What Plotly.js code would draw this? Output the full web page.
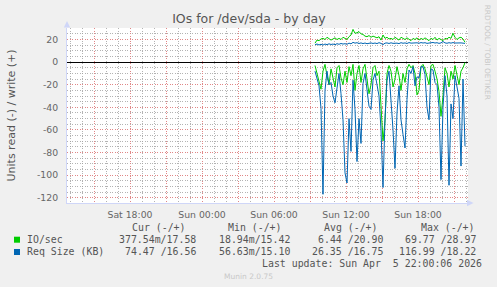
<!DOCTYPE html>
<html>
<head>
<meta charset="utf-8">
<script src="https://cdn.plot.ly/plotly-3.0.1.min.js"></script>
<style>html,body{margin:0;padding:0;background:#F0F0F0;}#chart{width:497px;height:287px;}</style>
</head>
<body>
<div id="chart"></div>
<script>
// ---- data (read values stored as positive, drawn below zero) ----
const seriesStart = '2026-04-05 09:25';
const stepMinutes = 10;

const ioRead = [3,10,18,24,8,2,12,20,6,15,22,5,3,14,20,8,18,4,12,2,25,10,3,18,6,2,15,28,20,5,3,12,8,40,69.77,52,10,3,8,22,15,4,12,25,10,18,6,2,5,3,10,29,25,4,2,6,14,20,3,2,8,15,26,48,30,5,10,22,8,15,3,12,20,8,5,0.38];
const ioWrite = [16.8,19.5,19,20.5,21,20,22,21,19.5,20.5,21.5,20,21,20,22,21,20,22.5,24,28.97,25.5,26,27,25,24.5,23,22.5,23.5,22,23,22.5,21.5,22.5,19.5,24,21,22,20.5,21,20,22,20.5,19.5,22,21,20,21.5,20.5,19,21,20,21.5,19.5,21,20,21.5,20,19,21,20,22,19.5,21,20,19,21,20.5,22,21,25.5,22,20,21.5,22,20.5,17.58];
const reqRead = [8,14,21,41,116.99,25,8,20,18,30,36,23,10,28,51,98,107,50,79,16,42,88,50,72,19,10,27,39,42,16,10,22,30,60,111,50,16,8,30,60,94,45,21,51,64,76,33,7,10,4,21,13,14,4,4,11,40,51,6,7,18,20,40,104,40,12,30,109,37,50,12,21,32,92,15,74.47];
const reqWrite = [15.5,16,15.2,15.8,15.1,16,15.5,16.2,15.6,16,15.4,16.3,15.8,16.5,16,16.3,15.8,16.8,16.2,17.5,16.8,17.2,16.5,17,16.4,16.9,16.3,16.8,17,16.5,16.9,16.4,17.2,16.6,15.5,16.8,17,16.5,17.1,16.6,17,16.8,16.4,17.2,16.7,17,16.5,17.3,16.8,17,16.6,17.1,16.7,17.3,16.9,17.2,16.6,17,16.8,17.4,16.9,17.2,16.6,17,18.22,17,16.7,17.2,16.8,17.3,16.9,17.1,16.7,17,16.8,16.56];

const xTickVals = ['2026-04-04 15:00','2026-04-04 18:00','2026-04-04 21:00','2026-04-05 00:00','2026-04-05 03:00','2026-04-05 06:00','2026-04-05 09:00','2026-04-05 12:00','2026-04-05 15:00','2026-04-05 18:00','2026-04-05 21:00'];
const xTickLabels = ['','Sat 18:00','','Sun 00:00','','Sun 06:00','','Sun 12:00','','Sun 18:00',''];
const yTickVals = [20,0,-20,-40,-60,-80,-100,-120];
const yTickLabels = ['20','0','-20','-40','-60','-80','-100','-120'];

const legendNames = ['IO/sec','Req Size (KB)'];
const legendCur = ['377.54m/17.58','74.47 /16.56'];
const legendMin = ['18.94m/15.42','56.63m/15.10'];
const legendAvg = ['6.44 /20.90','26.35 /16.75'];
const legendMax = ['69.77 /28.97','116.99 /18.22'];
const lastUpdate = 'Last update: Sun Apr\u00A0\u00A05 22:00:06 2026';

// ---- build ----
function timeAxis(n){
  const p = seriesStart.split(/[- :]/).map(Number);
  const t0 = Date.UTC(p[0], p[1]-1, p[2], p[3], p[4]);
  const out = [];
  for (let i=0;i<n;i++){ out.push(new Date(t0 + i*stepMinutes*60000).toISOString().slice(0,19).replace('T',' ')); }
  return out;
}
const xs = timeAxis(ioRead.length);
const GREEN = '#00CC00', BLUE = '#0066B3';

const traces = [
  {x: xs, y: ioRead.map(v=>-v), type:'scatter', mode:'lines', line:{color:GREEN,width:1}},
  {x: xs, y: ioWrite, type:'scatter', mode:'lines', line:{color:GREEN,width:1}},
  {x: xs, y: reqRead.map(v=>-v), type:'scatter', mode:'lines', line:{color:BLUE,width:1}},
  {x: xs, y: reqWrite, type:'scatter', mode:'lines', line:{color:BLUE,width:1}}
];

const W=497, H=287, L=67, R=29, T=28, B=84;
const PW = W-L-R, PH = H-T-B;
const px = x => (x-L)/PW;
const py = y => (H-B-y)/PH;

const mono = 'DejaVu Sans Mono, monospace';
const sans = 'DejaVu Sans, sans-serif';
const TXT = '#555555';
const ann = [];
function addText(text, x, y, anchor, opts){
  ann.push(Object.assign({text, xref:'paper', yref:'paper', x:px(x), y:py(y), xanchor:anchor, yanchor:'middle',
    showarrow:false, borderpad:0, font:{family:mono,size:9.9,color:TXT}}, opts||{}));
}
// headers
addText('Cur\u00A0(-/+)', 187.3, 227.3, 'right');
addText('Min\u00A0(-/+)', 283.3, 227.3, 'right');
addText('Avg\u00A0(-/+)', 379.3, 227.3, 'right');
addText('Max\u00A0(-/+)', 476.2, 227.3, 'right');
const rowY = [239.3, 251.7];
for (let i=0;i<2;i++){
  addText(legendNames[i], 26.3, rowY[i], 'left');
  addText(legendCur[i], 196.9, rowY[i], 'right');
  addText(legendMin[i], 290.9, rowY[i], 'right');
  addText(legendAvg[i], 383.5, rowY[i], 'right');
  addText(legendMax[i], 476.9, rowY[i], 'right');
}
addText(lastUpdate, 482.5, 263.5, 'right');
addText('Munin 2.0.75', 248, 276.5, 'center', {font:{family:sans,size:7.5,color:'#C8C8C8'}});
addText('RRDTOOL / TOBI OETIKER', 488.3, 52, 'center', {textangle:90, font:{family:sans,size:7.4,color:'#C8C8C8'}});
addText('Units read (-) / write (+)', 11, 115.5, 'center', {textangle:-90, font:{family:sans,size:11,color:TXT}});

const shapes = [
  {type:'rect', xref:'paper', yref:'paper', x0:px(14), x1:px(20), y0:py(242.7), y1:py(236.7), fillcolor:GREEN, line:{width:0}},
  {type:'rect', xref:'paper', yref:'paper', x0:px(14), x1:px(20), y0:py(255), y1:py(249), fillcolor:BLUE, line:{width:0}},
  {type:'path', xref:'paper', yref:'paper', path:`M ${px(63.8)} ${py(27.5)} L ${px(70.2)} ${py(27.5)} L ${px(67)} ${py(21)} Z`, fillcolor:'#CFD6F8', line:{width:0}},
  {type:'path', xref:'paper', yref:'paper', path:`M ${px(467)} ${py(199.8)} L ${px(467)} ${py(206.2)} L ${px(473.5)} ${py(203)} Z`, fillcolor:'#CFD6F8', line:{width:0}}
];

const MGRID = 'rgba(228,130,130,0.9)';
const GRID = 'rgba(160,160,160,0.8)';
const DOTS = '1px,1.5px';

const layout = {
  width:W, height:H,
  margin:{l:L,r:R,t:T,b:B,pad:0},
  paper_bgcolor:'#F0F0F0', plot_bgcolor:'#FFFFFF',
  showlegend:false,
  title:{text:'IOs for /dev/sda - by day', font:{family:sans,size:12.5,color:TXT}, x:248.9/W, xanchor:'center', y:1-18.5/H, yanchor:'middle'},
  xaxis:{
    type:'date', range:['2026-04-04 12:45','2026-04-05 22:10'],
    tickmode:'array', tickvals:xTickVals, ticktext:xTickLabels,
    showgrid:true, gridcolor:MGRID, griddash:DOTS, gridwidth:1,
    minor:{tickmode:'linear', dtick:3600000, tick0:'2026-04-04 00:00', showgrid:true, gridcolor:GRID, griddash:DOTS, gridwidth:1},
    showline:true, linecolor:'#CFD6F8', linewidth:1,
    ticks:'', ticklabelstandoff:3,
    tickfont:{family:sans,size:9.3,color:'#666666'},
    zeroline:false, fixedrange:true
  },
  yaxis:{
    range:[-124.7,30.2],
    tickmode:'array', tickvals:yTickVals, ticktext:yTickLabels,
    showgrid:true, gridcolor:MGRID, griddash:DOTS, gridwidth:1,
    minor:{tickmode:'linear', dtick:5, tick0:0, showgrid:true, gridcolor:GRID, griddash:DOTS, gridwidth:1},
    showline:true, linecolor:'#CFD6F8', linewidth:1,
    ticks:'', ticklabelstandoff:6,
    tickfont:{family:sans,size:9.3,color:'#666666'},
    zeroline:true, zerolinecolor:'#000000', zerolinewidth:1, fixedrange:true
  },
  annotations:ann,
  shapes:shapes
};

Plotly.newPlot('chart', traces, layout, {displayModeBar:false, staticPlot:true});
</script>
</body>
</html>
